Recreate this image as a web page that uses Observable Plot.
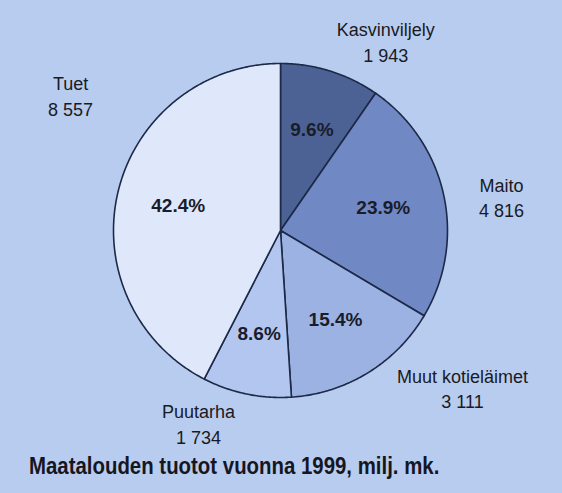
<!DOCTYPE html>
<html>
<head>
<meta charset="utf-8">
<script src="https://cdn.jsdelivr.net/npm/d3@7"></script>
<script src="https://cdn.jsdelivr.net/npm/@observablehq/plot@0.6"></script>
<style>
  html, body { margin: 0; padding: 0; }
  body { width: 562px; height: 493px; background: #b8ccef; overflow: hidden; font-family: "Liberation Sans", Arial, sans-serif; }
  #chart svg { display: block; background: transparent; }
  #title { height: 28px; line-height: 28px; padding-left: 29px; white-space: nowrap; }
  #title span { display: inline-block; font-weight: bold; font-size: 24px; color: #16161f; transform: scaleX(0.85); transform-origin: left center; }
</style>
</head>
<body>
<div id="chart"></div>
<div id="title"><span>Maatalouden tuotot vuonna 1999, milj. mk.</span></div>
<script>
// ---- data ----
const categories = ["Kasvinviljely", "Maito", "Muut kotieläimet", "Puutarha", "Tuet"];
const values = [1943, 4816, 3111, 1734, 8557];
const sliceColors = ["#4c6295", "#7088c3", "#9bb2e3", "#b3c6ef", "#dfe8fb"];
// layout: outer label placement in pie-radius units relative to centre
const labelPlacement = {
  "Kasvinviljely": [0.63, 1.135],
  "Maito": [1.323, 0.204],
  "Muut kotieläimet": [1.09, -0.94],
  "Puutarha": [-0.491, -1.15],
  "Tuet": [-1.257, 0.814]
};

const fi = d3.formatLocale({decimal: ".", thousands: " ", grouping: [3], currency: ["", ""]});
const fmtNum = fi.format(",d");
const total = d3.sum(values);

let cum = 0;
const slices = categories.map((name, i) => {
  const a0 = cum / total * 2 * Math.PI;
  cum += values[i];
  const a1 = cum / total * 2 * Math.PI;
  return {name, value: values[i], a0, a1, mid: (a0 + a1) / 2, pct: (values[i] / total * 100).toFixed(1) + "%"};
});

const pts = [];
for (const s of slices) {
  pts.push({name: s.name, x: 0, y: 0});
  const n = Math.max(2, Math.ceil((s.a1 - s.a0) / (Math.PI / 360)));
  for (let k = 0; k <= n; k++) {
    const a = s.a0 + (s.a1 - s.a0) * k / n;
    pts.push({name: s.name, x: Math.sin(a), y: Math.cos(a)});
  }
}

const W = 562, H = 452, R = 167, cx = 280, cy = 230;

const chart = Plot.plot({
  width: W,
  height: H,
  margin: 0,
  x: {domain: [-cx / R, (W - cx) / R], axis: null},
  y: {domain: [(cy - H) / R, cy / R], axis: null},
  color: {domain: categories, range: sliceColors},
  style: {background: "transparent"},
  marks: [
    Plot.line(pts, {x: "x", y: "y", z: "name", fill: "name", stroke: "#1c2947", strokeWidth: 1.6, curve: "linear-closed", strokeLinejoin: "round"}),
    Plot.text(slices, {
      x: d => 0.63 * Math.sin(d.mid), y: d => 0.63 * Math.cos(d.mid),
      text: "pct", fontWeight: "bold", fontSize: 19, fill: "#1a1c2a",
      fontFamily: "Liberation Sans, Arial, sans-serif"
    }),
    Plot.text(slices, {
      x: d => labelPlacement[d.name][0], y: d => labelPlacement[d.name][1],
      text: d => d.name + "\n" + fmtNum(d.value),
      fontSize: 18, lineHeight: 1.42, fill: "#1a1a24",
      fontFamily: "Liberation Sans, Arial, sans-serif"
    })
  ]
});
document.getElementById("chart").appendChild(chart);
</script>
</body>
</html>
